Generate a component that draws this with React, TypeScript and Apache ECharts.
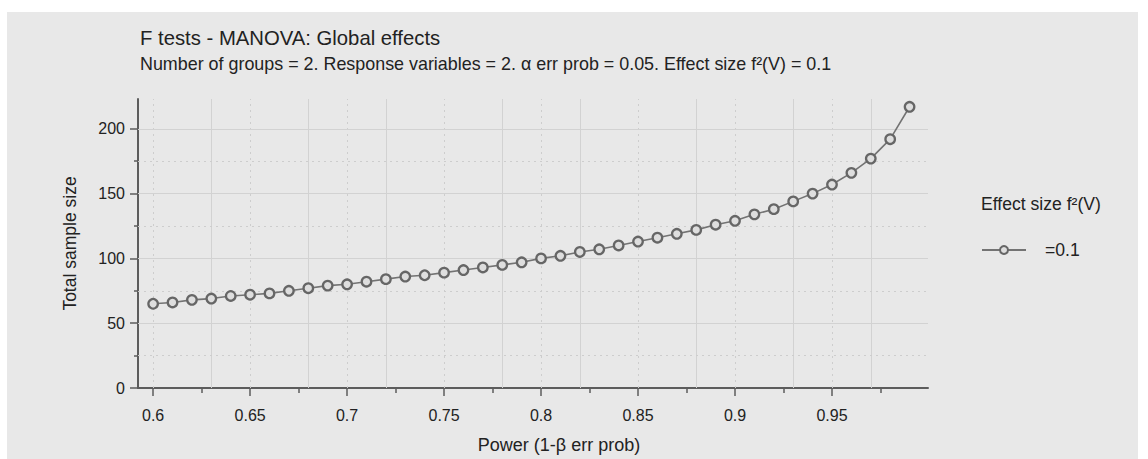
import React, { useEffect, useRef } from "react";
import * as echarts from "echarts";

const powers = [
  0.6, 0.61, 0.62, 0.63, 0.64, 0.65, 0.66, 0.67, 0.68, 0.69,
  0.7, 0.71, 0.72, 0.73, 0.74, 0.75, 0.76, 0.77, 0.78, 0.79,
  0.8, 0.81, 0.82, 0.83, 0.84, 0.85, 0.86, 0.87, 0.88, 0.89,
  0.9, 0.91, 0.92, 0.93, 0.94, 0.95, 0.96, 0.97, 0.98, 0.99,
];
const sampleSizes = [
  65, 66, 68, 69, 71, 72, 73, 75, 77, 79,
  80, 82, 84, 86, 87, 89, 91, 93, 95, 97,
  100, 102, 105, 107, 110, 113, 116, 119, 122, 126,
  129, 134, 138, 144, 150, 157, 166, 177, 192, 217,
];
const xMajorTicks = [0.6, 0.65, 0.7, 0.75, 0.8, 0.85, 0.9, 0.95];
const xMinorTicks = [0.625, 0.675, 0.725, 0.775, 0.825, 0.875, 0.925, 0.975];
const yMajorTicks = [0, 50, 100, 150, 200];
const yMinorTicks = [25, 75, 125, 175];

const seriesName = "=0.1";
const titleText = "F tests - MANOVA: Global effects";
const subtitleText =
  "Number of groups = 2. Response variables = 2. α err prob = 0.05. Effect size f²(V) = 0.1";
const xName = "Power (1-β err prob)";
const yName = "Total sample size";
const legendTitle = "Effect size f²(V)";

const FONT = "'Liberation Sans', Arial, Helvetica, sans-serif";
const TEXT = "#222";
const GRID_SOLID = "#d2d2d2";
const GRID_DOT = "#cdcdcd";

export default function App() {
  const ref = useRef<HTMLDivElement>(null);
  useEffect(() => {
    if (!ref.current) return;
    const chart = echarts.init(ref.current, null, { renderer: "svg" });

    const gridLines: any[] = [];
    xMajorTicks.forEach((v) =>
      gridLines.push({ xAxis: v, lineStyle: { color: GRID_DOT, type: [2, 4], width: 1 } })
    );
    xMinorTicks.forEach((v) =>
      gridLines.push({ xAxis: v, lineStyle: { color: GRID_SOLID, type: "solid", width: 1 } })
    );
    yMajorTicks
      .filter((v) => v > 0)
      .forEach((v) =>
        gridLines.push({ yAxis: v, lineStyle: { color: GRID_SOLID, type: "solid", width: 1 } })
      );
    yMinorTicks.forEach((v) =>
      gridLines.push({ yAxis: v, lineStyle: { color: GRID_DOT, type: [2, 4], width: 1 } })
    );

    const xMin = 0.5922;
    const xMax = 0.9995;
    const yMin = 0;
    const yMax = 223;

    const option: any = {
      animation: false,
      backgroundColor: "#ffffff",
      textStyle: { fontFamily: FONT },
      graphic: [
        {
          type: "rect",
          z: -100,
          silent: true,
          shape: { x: 7, y: 12, width: 1131, height: 447 },
          style: { fill: "#e8e8e8" },
        },
        {
          type: "text",
          left: 140,
          top: 28,
          style: { text: titleText, fontSize: 20.3, fill: TEXT, fontFamily: FONT },
        },
        {
          type: "text",
          left: 140,
          top: 55,
          style: { text: subtitleText, fontSize: 17.9, fill: TEXT, fontFamily: FONT },
        },
        {
          type: "text",
          left: 981,
          top: 195,
          style: { text: legendTitle, fontSize: 17.6, fill: TEXT, fontFamily: FONT },
        },
      ],
      grid: { left: 138, right: 220, top: 99, bottom: 70, containLabel: false },
      legend: {
        left: 981,
        top: 241,
        padding: 0,
        itemWidth: 44,
        itemHeight: 10,
        data: [seriesName],
        textStyle: { fontSize: 17.6, color: TEXT, fontFamily: FONT, padding: [0, 0, 0, 14] },
      },
      xAxis: [
        {
          type: "value",
          min: xMin,
          max: xMax,
          name: xName,
          nameLocation: "middle",
          nameGap: 48,
          nameTextStyle: { fontSize: 18, color: TEXT, fontFamily: FONT, padding: [0, 0, 0, 52] },
          axisLine: { show: true, onZero: false, lineStyle: { color: "#5c5c5c", width: 2 } },
          axisTick: {
            show: true,
            customValues: xMajorTicks,
            length: 8,
            lineStyle: { color: "#5c5c5c", width: 1.5 },
          },
          axisLabel: {
            customValues: xMajorTicks,
            fontSize: 16,
            color: TEXT,
            fontFamily: FONT,
            margin: 19,
          },
          splitLine: { show: false },
        },
        {
          type: "value",
          min: xMin,
          max: xMax,
          position: "bottom",
          axisLine: { show: false, onZero: false },
          axisTick: {
            show: true,
            customValues: xMinorTicks,
            length: 5,
            lineStyle: { color: "#5c5c5c", width: 1.5 },
          },
          axisLabel: { show: false },
          splitLine: { show: false },
        },
      ],
      yAxis: [
        {
          type: "value",
          min: yMin,
          max: yMax,
          name: yName,
          nameLocation: "middle",
          nameGap: 59,
          nameTextStyle: { fontSize: 17.5, color: TEXT, fontFamily: FONT },
          axisLine: { show: true, onZero: false, lineStyle: { color: "#5c5c5c", width: 2 } },
          axisTick: {
            show: true,
            customValues: yMajorTicks,
            length: 8,
            lineStyle: { color: "#5c5c5c", width: 1.5 },
          },
          axisLabel: {
            customValues: yMajorTicks,
            fontSize: 16,
            color: TEXT,
            fontFamily: FONT,
            margin: 13,
          },
          splitLine: { show: false },
        },
        {
          type: "value",
          min: yMin,
          max: yMax,
          position: "left",
          axisLine: { show: false, onZero: false },
          axisTick: {
            show: true,
            customValues: yMinorTicks,
            length: 4,
            lineStyle: { color: "#5c5c5c", width: 1.5 },
          },
          axisLabel: { show: false },
          splitLine: { show: false },
        },
      ],
      series: [
        {
          type: "line",
          name: "grid",
          xAxisIndex: 0,
          yAxisIndex: 0,
          data: [],
          z: 1,
          silent: true,
          markLine: {
            silent: true,
            symbol: ["none", "none"],
            label: { show: false },
            emphasis: { disabled: true },
            data: gridLines,
          },
        },
        {
          type: "line",
          name: seriesName,
          xAxisIndex: 0,
          yAxisIndex: 0,
          z: 5,
          data: powers.map((p, i) => [p, sampleSizes[i]]),
          symbol: "circle",
          symbolSize: 9.5,
          showSymbol: true,
          lineStyle: { color: "#737373", width: 1.6 },
          itemStyle: { color: "#dedede", borderColor: "#666666", borderWidth: 2.3 },
          emphasis: { disabled: true },
        },
      ],
    };
    chart.setOption(option);
    return () => chart.dispose();
  }, []);
  return (
    <div
      ref={ref}
      style={{ position: "fixed", left: 0, top: 0, width: 1148, height: 459 }}
    />
  );
}
